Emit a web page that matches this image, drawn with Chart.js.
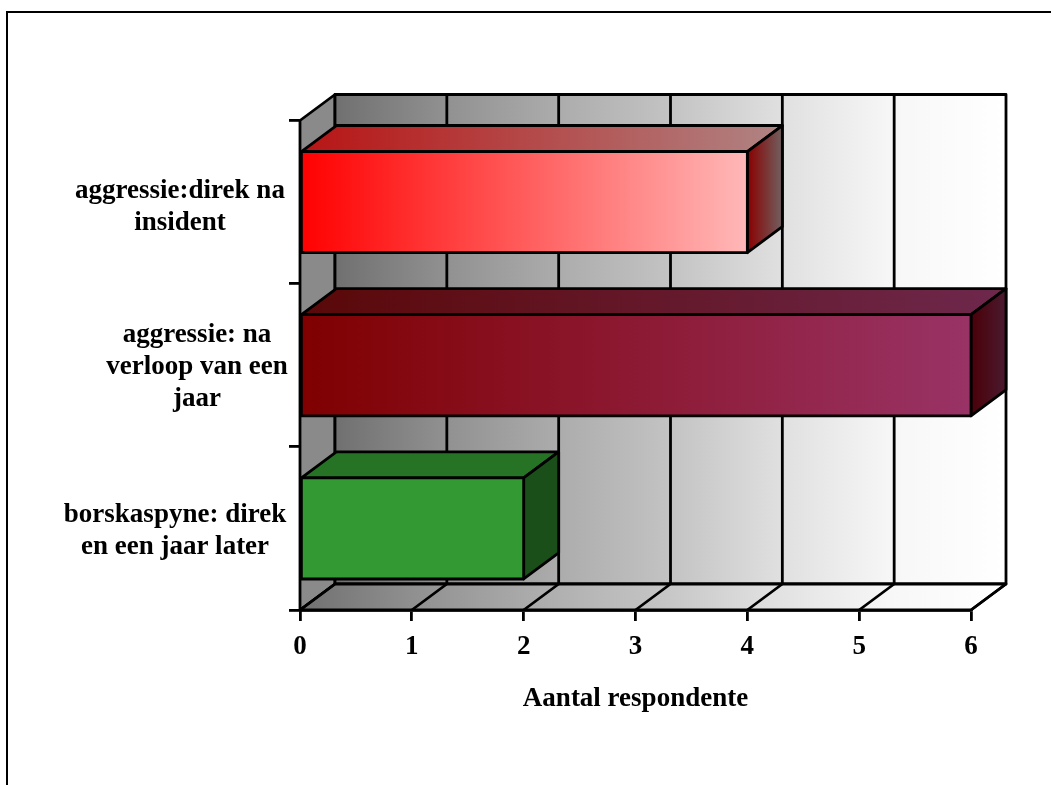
<!DOCTYPE html>
<html>
<head>
<meta charset="utf-8">
<title>Aantal respondente</title>
<script src="https://cdn.jsdelivr.net/npm/chart.js@4"></script>
<style>
  html, body { margin: 0; padding: 0; background: #fff; overflow: hidden; }
  #wrap { position: relative; width: 1051px; height: 785px; }
  #frame { position: absolute; left: 6px; top: 11px; right: 0; bottom: 0; border-top: 2px solid #000; border-left: 2px solid #000; }
  canvas { position: absolute; left: 0; top: 0; }
</style>
</head>
<body>
<div id="wrap">
  <div id="frame"></div>
  <canvas id="chart" width="1051" height="785"></canvas>
</div>
<script>
  const categories = [
    ['aggressie:direk na', 'insident'],
    ['aggressie: na', 'verloop van een', 'jaar'],
    ['borskaspyne: direk', 'en een jaar later']
  ];
  const respondents = [4, 6, 2];
  const xTicks = [0, 1, 2, 3, 4, 5, 6];
  const xTitle = 'Aantal respondente';

  // colours per bar: start and end of the gradient, for each face
  const frontStart = ['#ff0000', '#800000', '#339933'];
  const frontEnd = ['#ffb8b8', '#993366', '#339933'];
  const topStart = ['#b81414', '#5a0808', '#267326'];
  const topEnd = ['#b08484', '#6e284c', '#267326'];
  const sideStart = ['#8a0000', '#4a0008', '#1a4f1a'];
  const sideEnd = ['#706060', '#4a1a30', '#1a4f1a'];
  const wallStops = ['#707070', '#919191', '#acacac', '#c3c3c3', '#e0e0e0', '#f7f7f7', '#ffffff'];

  const labelCentres = [180, 197, 175];
  const labelShifts = [5, 2, 3];
  const depthX = 35;
  const depthY = 26;
  const lineW = 2.8;
  const boldFont = { family: '"Liberation Serif"', size: 27, weight: 'bold' };

  function hGradient(ctx, x1, x2, c1, c2) {
    const g = ctx.createLinearGradient(x1, 0, x2, 0);
    g.addColorStop(0, c1);
    g.addColorStop(1, c2);
    return g;
  }

  function wallGradient(ctx, x1, x2) {
    const g = ctx.createLinearGradient(x1, 0, x2, 0);
    wallStops.forEach((c, i) => g.addColorStop(i / (wallStops.length - 1), c));
    return g;
  }

  function poly(ctx, pts, fill) {
    ctx.beginPath();
    pts.forEach((p, i) => i ? ctx.lineTo(p[0], p[1]) : ctx.moveTo(p[0], p[1]));
    ctx.closePath();
    if (fill) {
      ctx.fillStyle = fill;
      ctx.fill();
    }
    ctx.stroke();
  }

  // moves each multi line label to its own centre
  const labelPlugin = {
    id: 'labelPlugin',
    beforeDraw(chart) {
      const ys = chart.scales.y;
      ys.getLabelItems().forEach((item, i) => {
        item.options.translation[0] = labelCentres[i];
        item.options.translation[1] = ys.getPixelForTick(i) + labelShifts[i];
      });
    }
  };

  // the walls, the floor and the depth faces of the bars
  const boxPlugin = {
    id: 'boxPlugin',
    beforeDatasetsDraw(chart) {
      const ctx = chart.ctx;
      const xs = chart.scales.x;
      const a = chart.chartArea;
      const backL = a.left + depthX, backR = a.right + depthX;
      const backT = a.top - depthY, backB = a.bottom - depthY;

      ctx.save();
      ctx.lineWidth = lineW;
      ctx.strokeStyle = '#000';
      ctx.lineJoin = 'round';

      poly(ctx, [[a.left, a.top], [backL, backT], [backL, backB], [a.left, a.bottom]], '#8a8a8a');
      poly(ctx, [[backL, backT], [backR, backT], [backR, backB], [backL, backB]], wallGradient(ctx, backL, backR));
      poly(ctx, [[a.left, a.bottom], [backL, backB], [backR, backB], [a.right, a.bottom]], wallGradient(ctx, a.left, backR));

      xTicks.forEach(v => {
        const x = xs.getPixelForValue(v);
        ctx.beginPath();
        ctx.moveTo(x, a.bottom);
        ctx.lineTo(x + depthX, backB);
        if (v > 0 && v < xTicks[xTicks.length - 1]) ctx.lineTo(x + depthX, backT);
        ctx.stroke();
      });

      chart.getDatasetMeta(0).data.forEach((bar, i) => {
        const t = bar.y - bar.height / 2, b = bar.y + bar.height / 2;
        const l = bar.base, r = bar.x;
        poly(ctx, [[l, t], [l + depthX, t - depthY], [r + depthX, t - depthY], [r, t]],
          hGradient(ctx, l, r + depthX, topStart[i], topEnd[i]));
        poly(ctx, [[r, t], [r + depthX, t - depthY], [r + depthX, b - depthY], [r, b]],
          hGradient(ctx, r, r + depthX, sideStart[i], sideEnd[i]));
      });
      ctx.restore();
    },
    // outline of the front faces, centred on the bar edges
    afterDatasetsDraw(chart) {
      const ctx = chart.ctx;
      ctx.save();
      ctx.lineWidth = lineW;
      ctx.strokeStyle = '#000';
      ctx.lineJoin = 'round';
      chart.getDatasetMeta(0).data.forEach(bar => {
        ctx.strokeRect(bar.base, bar.y - bar.height / 2, bar.x - bar.base, bar.height);
      });
      ctx.restore();
    }
  };

  new Chart(document.getElementById('chart'), {
    type: 'bar',
    data: {
      labels: categories,
      datasets: [{
        data: respondents,
        categoryPercentage: 1,
        barPercentage: 0.62,
        borderWidth: 0,
        backgroundColor(c) {
          const a = c.chart.chartArea;
          if (!a || c.dataIndex === undefined) return frontStart[0];
          const xs = c.chart.scales.x;
          const i = c.dataIndex;
          return hGradient(c.chart.ctx, xs.getPixelForValue(0), xs.getPixelForValue(respondents[i]), frontStart[i], frontEnd[i]);
        }
      }]
    },
    options: {
      indexAxis: 'y',
      responsive: false,
      animation: false,
      layout: { padding: { left: 0, right: 80, top: 120.5, bottom: 0 } },
      plugins: { legend: { display: false }, tooltip: { enabled: false } },
      scales: {
        x: {
          min: 0,
          max: 6,
          afterFit(s) { s.height = 175; },
          afterBuildTicks(s) { s.ticks = xTicks.map(v => ({ value: v })); },
          border: { color: '#000', width: lineW },
          grid: { drawOnChartArea: false, drawTicks: true, tickLength: 11, color: '#000', lineWidth: lineW },
          ticks: {
            color: '#000',
            padding: 10,
            maxRotation: 0,
            font: boldFont
          },
          title: {
            display: true,
            text: xTitle,
            color: '#000',
            padding: { top: 22, bottom: 70 },
            font: boldFont
          }
        },
        y: {
          afterFit(s) { s.width = 300; },
          border: { color: '#000', width: lineW },
          grid: { drawOnChartArea: false, drawTicks: true, tickLength: 11, color: '#000', lineWidth: lineW },
          ticks: {
            color: '#000',
            crossAlign: 'center',
            autoSkip: false,
            font: { family: '"Liberation Serif"', size: 27, weight: 'bold', lineHeight: 1.18 }
          }
        }
      }
    },
    plugins: [labelPlugin, boxPlugin]
  });
</script>
</body>
</html>
